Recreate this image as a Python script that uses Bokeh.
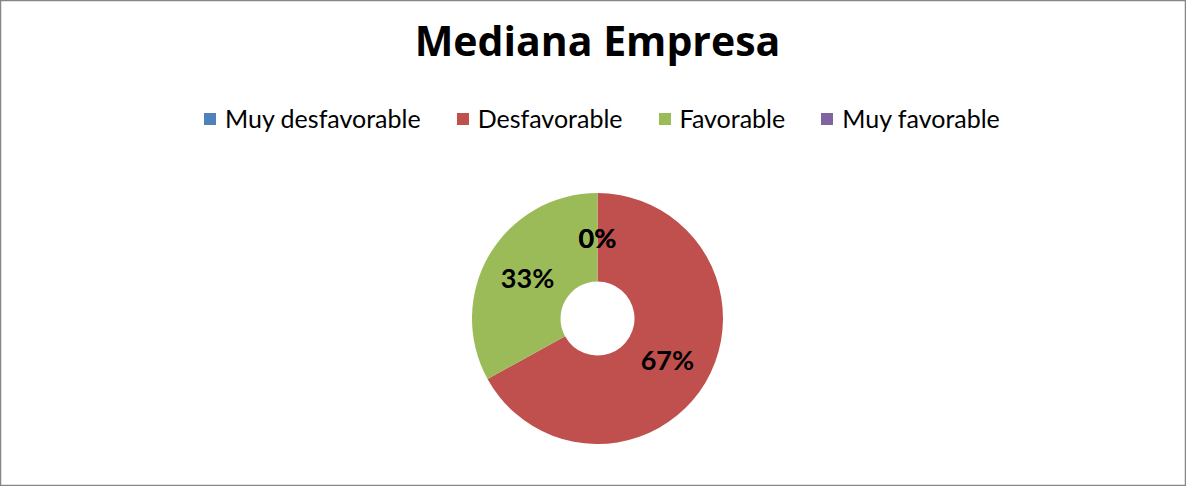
import numpy as np
from bokeh.plotting import figure
from bokeh.models import (ColumnDataSource, Label, Legend, LegendItem, Range1d,
                          CDSView, IndexFilter)
from bokeh.core.properties import value
from bokeh.embed import file_html
from bokeh.resources import INLINE

# ---- data ----
categories = ["Muy desfavorable", "Desfavorable", "Favorable", "Muy favorable"]
percentages = [0, 67, 33, 0]
colors = ["#4F81BD", "#C0504D", "#9BBB59", "#8064A2"]
title_text = "Mediana Empresa"

# ---- layout ----
W, H = 1186, 486
CX, CY = 597, 168
R_OUT, R_IN = 125.5, 37

vals = np.array(percentages, dtype=float)
frac = vals / vals.sum()
cum_after = np.cumsum(frac)
cum_before = cum_after - frac
start = np.pi / 2 - 2 * np.pi * cum_before
end = np.pi / 2 - 2 * np.pi * cum_after
mid = (start + end) / 2
r_lab = (R_IN + R_OUT) / 2

src = ColumnDataSource(dict(
    cat=categories, pct=percentages, color=colors,
    start=start, end=end,
    x=[CX] * len(categories), y=[CY] * len(categories),
    lx=CX + r_lab * np.cos(mid), ly=CY + r_lab * np.sin(mid),
    lab=[f"{p:.0f}%" for p in percentages],
))

p = figure(width=W, height=H, output_backend="svg", toolbar_location=None,
           x_range=Range1d(0, W), y_range=Range1d(0, H), min_border=0,
           background_fill_color="white", border_fill_color="white")
p.axis.visible = False
p.grid.visible = False
p.outline_line_color = "#868686"
p.outline_line_width = 1.5

# zero-size slices are skipped in drawing (a 0-width arc would render as a full ring)
nonzero = [i for i, v in enumerate(percentages) if v > 0]
p.annular_wedge(x="x", y="y", inner_radius=R_IN, outer_radius=R_OUT,
                start_angle="start", end_angle="end", direction="clock",
                fill_color="color", line_color=None, source=src,
                view=CDSView(filter=IndexFilter(nonzero)))

# legend swatches for every category (including the 0% ones)
swatch = p.rect(x="x", y="y", width=0, height=0, fill_color="color",
                line_color=None, source=src)

p.text(x="lx", y="ly", text="lab", source=src, text_align="center",
       text_baseline="middle", text_font=value("Lato"), text_font_style="bold",
       text_font_size="27px", text_color="black")

legend = Legend(items=[LegendItem(label=c, renderers=[swatch], index=i)
                       for i, c in enumerate(categories)],
                orientation="horizontal", location=(202, 353),
                glyph_width=15, glyph_height=15, label_standoff=8, spacing=34,
                padding=0, margin=0, border_line_color=None,
                background_fill_alpha=0, label_text_font="Lato",
                label_text_font_size="25px", label_text_color="black")
p.add_layout(legend)

p.add_layout(Label(x=CX, y=H - 39, text=title_text, text_align="center",
                   text_baseline="middle", text_font="Open Sans",
                   text_font_style="bold", text_font_size="41px",
                   text_color="black"))

open("out.html", "w").write(file_html(p, INLINE))
